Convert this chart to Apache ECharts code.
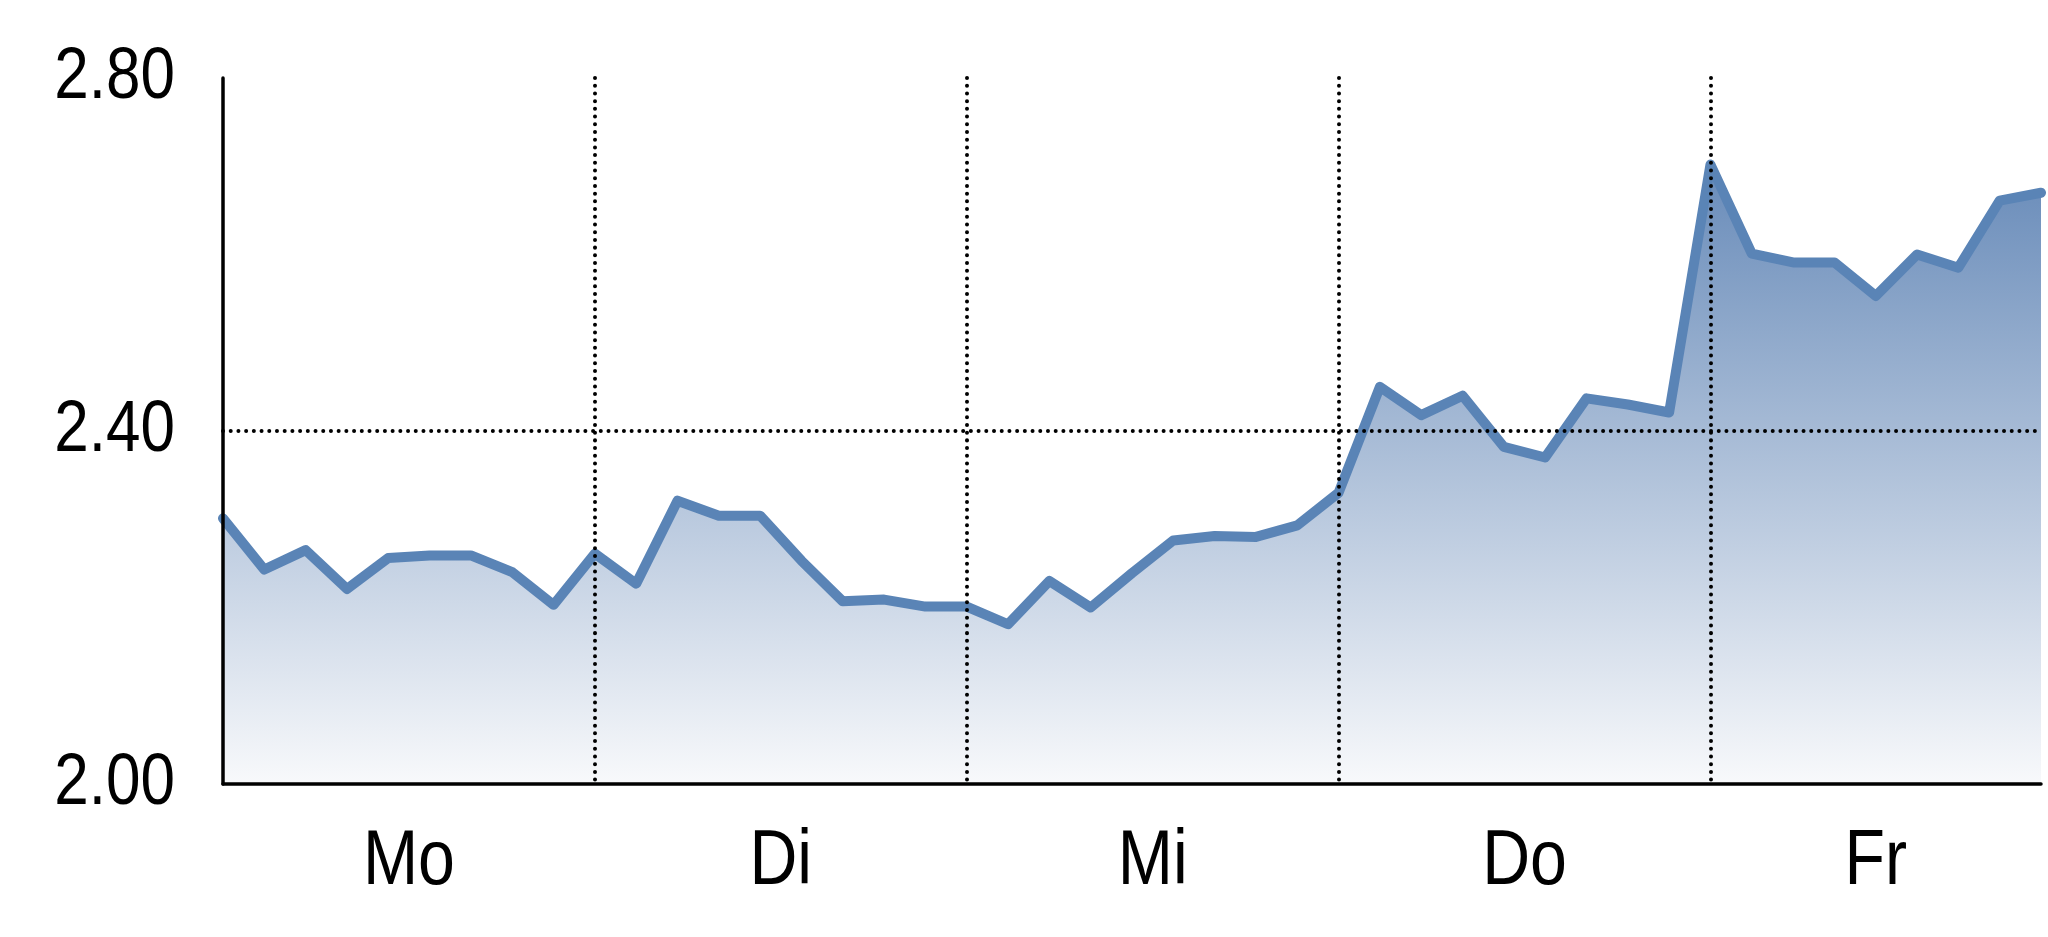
<!DOCTYPE html>
<html>
<head>
<meta charset="utf-8">
<script src="https://cdn.jsdelivr.net/npm/echarts@6/dist/echarts.min.js"></script>
<style>
html,body{margin:0;padding:0;background:#fff;}
#chart{width:2048px;height:937px;}
</style>
</head>
<body>
<div id="chart"></div>
<script>
// Day labels and their centre positions on the step axis
const dayLabels = ['Mo', 'Di', 'Mi', 'Do', 'Fr'];
const dayCenters = [4.5, 13.5, 22.5, 31.5, 40];
// Y tick labels
const yTicks = [2.00, 2.40, 2.80];
// Price values (one per step, 45 points)
const values = [
  2.301, 2.243, 2.265, 2.221, 2.256, 2.259, 2.259, 2.240, 2.203, 2.261,
  2.227, 2.321, 2.304, 2.304, 2.253, 2.207, 2.209, 2.201, 2.201,
  2.181, 2.230, 2.200, 2.239, 2.276, 2.281, 2.280, 2.293, 2.330,
  2.450, 2.418, 2.440, 2.382, 2.370, 2.437, 2.430, 2.421, 2.702,
  2.601, 2.591, 2.591, 2.553, 2.600, 2.585, 2.661, 2.670
];

const chart = echarts.init(document.getElementById('chart'));
const fontFam = '"Liberation Sans Narrow","Arial Narrow","Liberation Sans",Arial,sans-serif';
const dotted = { color: '#000', width: 4, type: [0.01, 7.7], cap: 'round' };
chart.setOption({
  animation: false,
  grid: { left: 223, right: 7, top: 78, bottom: 153 },
  xAxis: {
    type: 'value',
    min: 0,
    max: values.length - 1,
    interval: 9,
    z: 5,
    axisLine: { show: true, lineStyle: { color: '#000', width: 3.5 } },
    axisTick: { show: false },
    axisLabel: { show: false },
    splitLine: { show: true, showMinLine: false, showMaxLine: false, lineStyle: dotted }
  },
  yAxis: {
    type: 'value',
    min: yTicks[0],
    max: yTicks[yTicks.length - 1],
    interval: 0.4,
    z: 5,
    axisLine: { show: true, lineStyle: { color: '#000', width: 3.5 } },
    axisTick: { show: false },
    axisLabel: { show: false },
    splitLine: { show: true, showMinLine: false, showMaxLine: false, lineStyle: dotted }
  },
  series: [{
    type: 'line',
    data: values.map(function (v, i) { return [i, v]; }),
    symbol: 'none',
    z: 2,
    lineStyle: { color: '#5a84b6', width: 10, cap: 'round', join: 'round' },
    areaStyle: {
      opacity: 1,
      color: new echarts.graphic.LinearGradient(0, 0, 0, 1, [
        { offset: 0, color: '#688bb9' },
        { offset: 1, color: '#f8f9fb' }
      ])
    }
  }]
});

// Condensed tick labels placed at the axis positions
const labels = [];
yTicks.forEach(function (t) {
  const p = chart.convertToPixel({ gridIndex: 0 }, [0, t]);
  labels.push({
    type: 'text', x: p[0] - 48, y: p[1], scaleX: 0.85, z: 10,
    style: { text: t.toFixed(2), fontSize: 73, fontFamily: fontFam, fill: '#000',
             align: 'right', verticalAlign: 'middle' }
  });
});
dayLabels.forEach(function (d, i) {
  const p = chart.convertToPixel({ gridIndex: 0 }, [dayCenters[i], yTicks[0]]);
  labels.push({
    type: 'text', x: p[0], y: p[1] + 78, scaleX: 0.85, z: 10,
    style: { text: d, fontSize: 78, fontFamily: fontFam, fill: '#000',
             align: 'center', verticalAlign: 'middle' }
  });
});
chart.setOption({ graphic: labels });
</script>
</body>
</html>
